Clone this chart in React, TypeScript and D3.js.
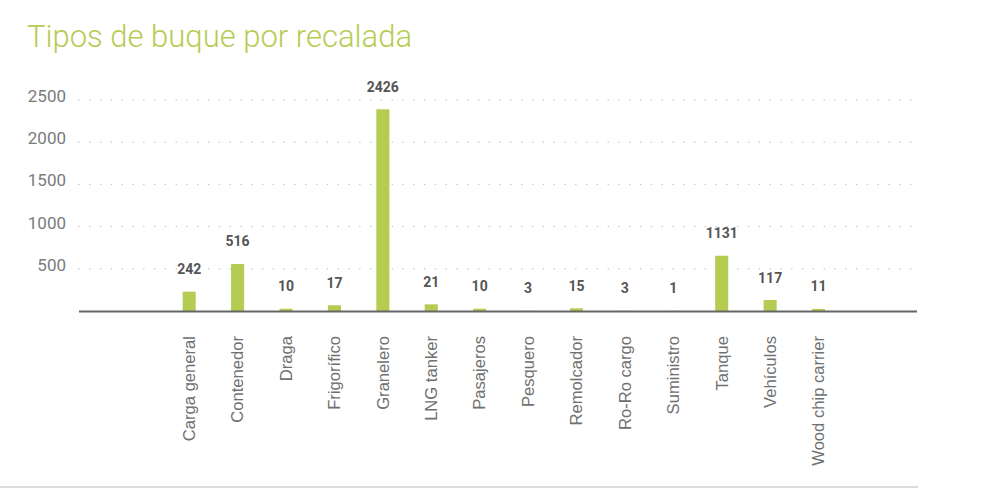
// Tipos de buque por recalada — vertical bar chart with value labels above bars,
// dotted horizontal gridlines and rotated category labels.
import { useEffect, useRef } from "react";
import * as d3 from "d3";

const TITLE = "Tipos de buque por recalada";

const categories = [
  "Carga general",
  "Contenedor",
  "Draga",
  "Frigorífico",
  "Granelero",
  "LNG tanker",
  "Pasajeros",
  "Pesquero",
  "Remolcador",
  "Ro-Ro cargo",
  "Suministro",
  "Tanque",
  "Vehículos",
  "Wood chip carrier",
];

// bar heights as drawn in the picture
const barValues = [229, 557, 27, 68, 2390, 79, 27, 3, 32, 3, 1, 655, 130, 24];
// the printed labels above each bar
const valueLabels = [242, 516, 10, 17, 2426, 21, 10, 3, 15, 3, 1, 1131, 117, 11];

const yTicks = [500, 1000, 1500, 2000, 2500];

const W = 981;
const H = 497;
const GREEN = "#b5cc52";

export default function App() {
  const ref = useRef<SVGSVGElement>(null);

  useEffect(() => {
    const svg = d3.select(ref.current!);
    svg.selectAll("*").remove();

    const x0 = 79;
    const x1 = 917;
    const y = d3.scaleLinear().domain([0, 2500]).range([311, 100]);
    const x = d3
      .scaleBand<string>()
      .domain(categories)
      .range([x0, x1])
      .paddingInner(0.73)
      .paddingOuter(2.02)
      .align(0.53);

    // title
    svg
      .append("text")
      .attr("x", 27)
      .attr("y", 47)
      .attr("fill", GREEN)
      .attr("font-family", "Roboto")
      .attr("font-weight", 300)
      .attr("font-size", "31px")
      .text(TITLE);

    // dotted gridlines
    svg
      .append("g")
      .selectAll("line")
      .data(yTicks)
      .join("line")
      .attr("x1", x0)
      .attr("x2", x1)
      .attr("y1", (d) => y(d))
      .attr("y2", (d) => y(d))
      .attr("stroke", "#c8c8c8")
      .attr("stroke-width", 1.5)
      .attr("stroke-linecap", "round")
      .attr("stroke-dasharray", "0.1 10.7");

    // y tick labels
    svg
      .append("g")
      .selectAll("text")
      .data(yTicks)
      .join("text")
      .attr("x", 66)
      .attr("y", (d) => y(d) - 4)
      .attr("dy", "0.35em")
      .attr("text-anchor", "end")
      .attr("fill", "#7a7a7a")
      .attr("font-family", "Roboto")
      .attr("font-size", "17px")
      .text((d) => `${d}`);

    // bars
    svg
      .append("g")
      .selectAll("rect")
      .data(categories)
      .join("rect")
      .attr("x", (d) => x(d)!)
      .attr("width", x.bandwidth())
      .attr("y", (_d, i) => y(barValues[i]))
      .attr("height", (_d, i) => y(0) - y(barValues[i]))
      .attr("fill", GREEN);

    // value labels
    svg
      .append("g")
      .selectAll("text")
      .data(categories)
      .join("text")
      .attr("x", (d) => x(d)! + x.bandwidth() / 2)
      .attr("y", (_d, i) => y(barValues[i]) - 17.5)
      .attr("text-anchor", "middle")
      .attr("fill", "#555")
      .attr("font-family", "Roboto")
      .attr("font-weight", 700)
      .attr("font-size", "14px")
      .text((_d, i) => `${valueLabels[i]}`);

    // baseline axis
    svg
      .append("line")
      .attr("x1", x0)
      .attr("x2", x1)
      .attr("y1", y(0) + 0.5)
      .attr("y2", y(0) + 0.5)
      .attr("stroke", "#666")
      .attr("stroke-width", 1.8);

    // category labels, rotated
    svg
      .append("g")
      .selectAll("text")
      .data(categories)
      .join("text")
      .attr(
        "transform",
        (d) => `translate(${x(d)! + x.bandwidth() / 2},336) rotate(-90)`
      )
      .attr("dy", "0.35em")
      .attr("text-anchor", "end")
      .attr("fill", "#707070")
      .attr("font-family", "'Liberation Sans', Arial, sans-serif")
      .attr("font-size", "16.6px")
      .text((d) => d);

    // bottom rule
    svg
      .append("line")
      .attr("x1", 0)
      .attr("x2", 918)
      .attr("y1", 487)
      .attr("y2", 487)
      .attr("stroke", "#dcdcdc")
      .attr("stroke-width", 2);
  }, []);

  return (
    <svg
      ref={ref}
      width={W}
      height={H}
      viewBox={`0 0 ${W} ${H}`}
      style={{ position: "absolute", left: 0, top: 0, background: "#fff" }}
    />
  );
}
